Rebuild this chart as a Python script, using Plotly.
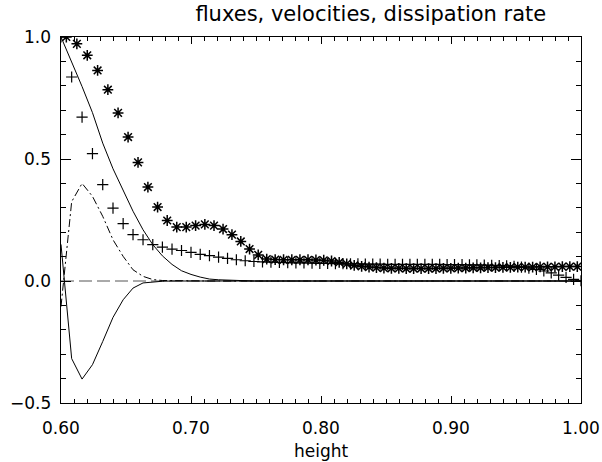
import plotly.graph_objects as go

# Height grid (cell faces) of the model column
height = [
    0.6000, 0.6082, 0.6162, 0.6242, 0.6321, 0.6400, 0.6478, 0.6554,
    0.6631, 0.6706, 0.6780, 0.6854, 0.6927, 0.7000, 0.7071, 0.7142,
    0.7212, 0.7281, 0.7349, 0.7417, 0.7484, 0.7550, 0.7615, 0.7680,
    0.7744, 0.7807, 0.7869, 0.7931, 0.7991, 0.8051, 0.8111, 0.8169,
    0.8227, 0.8284, 0.8341, 0.8398, 0.8455, 0.8513, 0.8570, 0.8627,
    0.8684, 0.8741, 0.8799, 0.8856, 0.8913, 0.8970, 0.9027, 0.9085,
    0.9142, 0.9199, 0.9256, 0.9313, 0.9371, 0.9428, 0.9485, 0.9542,
    0.9599, 0.9657, 0.9714, 0.9771, 0.9828, 0.9885, 0.9943, 1.0000,
]

# Dissipation rate at cell centres (asterisks)
dissipation_rate = [
    1.000, 0.972, 0.925, 0.863, 0.784, 0.689, 0.590, 0.486,
    0.385, 0.303, 0.248, 0.221, 0.221, 0.227, 0.232, 0.227,
    0.213, 0.190, 0.162, 0.131, 0.107, 0.090, 0.088, 0.087,
    0.087, 0.087, 0.087, 0.086, 0.085, 0.082, 0.076, 0.070,
    0.064, 0.060, 0.057, 0.055, 0.053, 0.052, 0.052, 0.051,
    0.051, 0.051, 0.051, 0.051, 0.052, 0.052, 0.053, 0.053,
    0.054, 0.054, 0.055, 0.055, 0.056, 0.056, 0.057, 0.057,
    0.057, 0.058, 0.058, 0.058, 0.059, 0.059, 0.059,
]

# Velocity amplitude on the faces (plus signs)
velocity = [
    1.000, 0.836, 0.672, 0.522, 0.395, 0.299, 0.235, 0.190,
    0.169, 0.149, 0.139, 0.131, 0.125, 0.117, 0.109, 0.104,
    0.098, 0.093, 0.087, 0.083, 0.080, 0.078, 0.077, 0.076,
    0.075, 0.074, 0.074, 0.073, 0.072, 0.072, 0.071, 0.071,
    0.070, 0.070, 0.069, 0.069, 0.069, 0.068, 0.068, 0.068,
    0.068, 0.068, 0.068, 0.068, 0.068, 0.067, 0.067, 0.067,
    0.066, 0.066, 0.065, 0.064, 0.063, 0.062, 0.060, 0.057,
    0.053, 0.048, 0.041, 0.033, 0.024, 0.015, 0.007, 0.001,
]

# Upward (positive) flux, solid
flux_up = [
    1.000, 0.898, 0.797, 0.690, 0.565, 0.460, 0.369, 0.286,
    0.210, 0.149, 0.103, 0.068, 0.042, 0.027, 0.016, 0.008,
    0.005, 0.003, 0.002, 0.001, 0.000, 0.000, 0.000, 0.000,
    0.000, 0.000, 0.000, 0.000, 0.000, 0.000, 0.000, 0.000,
    0.000, 0.000, 0.000, 0.000, 0.000, 0.000, 0.000, 0.000,
    0.000, 0.000, 0.000, 0.000, 0.000, 0.000, 0.000, 0.000,
    0.000, 0.000, 0.000, 0.000, 0.000, 0.000, 0.000, 0.000,
    0.000, 0.000, 0.000, 0.000, 0.000, 0.000, 0.000, 0.000,
]

# Downward (negative) flux, solid
flux_down = [
    0.150, -0.318, -0.402, -0.343, -0.248, -0.149, -0.077, -0.029,
    -0.008, -0.003, -0.001, 0.000, 0.000, 0.000, 0.000, 0.000,
    0.000, 0.000, 0.000, 0.000, 0.000, 0.000, 0.000, 0.000,
    0.000, 0.000, 0.000, 0.000, 0.000, 0.000, 0.000, 0.000,
    0.000, 0.000, 0.000, 0.000, 0.000, 0.000, 0.000, 0.000,
    0.000, 0.000, 0.000, 0.000, 0.000, 0.000, 0.000, 0.000,
    0.000, 0.000, 0.000, 0.000, 0.000, 0.000, 0.000, 0.000,
    0.000, 0.000, 0.000, 0.000, 0.000, 0.000, 0.000, 0.000,
]

# Kinetic energy flux, dash-dot
flux_kin = [
    -0.105, 0.325, 0.400, 0.347, 0.265, 0.169, 0.101, 0.046,
    0.019, 0.006, 0.002, 0.001, 0.000, 0.000, 0.000, 0.000,
    0.000, 0.000, 0.000, 0.000, 0.000, 0.000, 0.000, 0.000,
    0.000, 0.000, 0.000, 0.000, 0.000, 0.000, 0.000, 0.000,
    0.000, 0.000, 0.000, 0.000, 0.000, 0.000, 0.000, 0.000,
    0.000, 0.000, 0.000, 0.000, 0.000, 0.000, 0.000, 0.000,
    0.000, 0.000, 0.000, 0.000, 0.000, 0.000, 0.000, 0.000,
    0.000, 0.000, 0.000, 0.000, 0.000, 0.000, 0.000, 0.000,
]

# Mean flow, dashed
mean_flow = [
    0.000, 0.000, 0.000, 0.000, 0.000, 0.000, 0.000, 0.000,
    0.000, 0.000, 0.000, 0.000, 0.000, 0.000, 0.000, 0.000,
    0.000, 0.000, 0.000, 0.000, 0.000, 0.000, 0.000, 0.000,
    0.000, 0.000, 0.000, 0.000, 0.000, 0.000, 0.000, 0.000,
    0.000, 0.000, 0.000, 0.000, 0.000, 0.000, 0.000, 0.000,
    0.000, 0.000, 0.000, 0.000, 0.000, 0.000, 0.000, 0.000,
    0.000, 0.000, 0.000, 0.000, 0.000, 0.000, 0.000, 0.000,
    0.000, 0.000, 0.000, 0.000, 0.000, 0.000, 0.000, 0.000,
]

# Axis tick values and their labels
x_tick_values = [0.6, 0.7, 0.8, 0.9, 1.0]
x_tick_labels = ["0.60", "0.70", "0.80", "0.90", "1.00"]
y_tick_values = [-0.5, 0.0, 0.5, 1.0]
y_tick_labels = ["\u22120.5", "0.0", "0.5", "1.0"]

# cell centres between consecutive faces
centres = [(a + b) / 2 for a, b in zip(height[:-1], height[1:])]

fig = go.Figure()
fig.add_trace(go.Scatter(x=height, y=mean_flow, mode="lines",
                         line=dict(color="#555555", width=1, dash="13px,5px")))
fig.add_trace(go.Scatter(x=height, y=flux_kin, mode="lines",
                         line=dict(color="black", width=1, dash="8px,3px,2px,3px")))
fig.add_trace(go.Scatter(x=height, y=flux_up, mode="lines",
                         line=dict(color="black", width=1)))
fig.add_trace(go.Scatter(x=height, y=flux_down, mode="lines",
                         line=dict(color="black", width=1)))
fig.add_trace(go.Scatter(x=height, y=velocity, mode="markers",
                         marker=dict(symbol="cross-thin-open", size=8,
                                     color="black",
                                     line=dict(color="black", width=1.2))))
fig.add_trace(go.Scatter(x=centres, y=dissipation_rate, mode="markers",
                         marker=dict(symbol="asterisk-open", size=9,
                                     color="black",
                                     line=dict(color="black", width=1.5))))

# tick labels placed a little further from the box, as annotations
label_font = dict(family="DejaVu Sans", size=17, color="black")
annotations = []
for v, t in zip(x_tick_values, x_tick_labels):
    annotations.append(dict(text=t, xref="x", yref="paper", x=v, y=-0.068,
                            xanchor="center", yanchor="middle",
                            showarrow=False, font=label_font))
for v, t in zip(y_tick_values, y_tick_labels):
    annotations.append(dict(text=t, xref="paper", yref="y", x=-0.015, y=v,
                            xanchor="right", yanchor="middle",
                            showarrow=False, font=label_font))
annotations.append(dict(text="height", xref="paper", yref="paper",
                        x=0.5, y=-0.131, xanchor="center", yanchor="middle",
                        showarrow=False, font=label_font))

fig.update_layout(
    width=602, height=462,
    margin=dict(l=61, r=21, t=37, b=59),
    paper_bgcolor="white", plot_bgcolor="white",
    showlegend=False,
    font=dict(family="DejaVu Sans", size=17, color="black"),
    title=dict(text="fluxes, velocities, dissipation rate",
               xref="container", yref="container",
               x=0.616, xanchor="center", y=1 - 14 / 462, yanchor="middle",
               font=dict(size=21)),
    annotations=annotations,
)

fig.update_xaxes(range=[0.6, 1.0], tickmode="linear", tick0=0.6, dtick=0.1,
                 showticklabels=False,
                 ticks="inside", ticklen=7, tickwidth=1, tickcolor="black",
                 showline=True, linecolor="black", linewidth=1, mirror="allticks",
                 showgrid=False, zeroline=False,
                 minor=dict(ticks="inside", ticklen=4, dtick=0.01,
                            tickwidth=1, tickcolor="black", showgrid=False))
fig.update_yaxes(range=[-0.5, 1.0], tickmode="linear", tick0=0.0, dtick=0.5,
                 showticklabels=False,
                 ticks="inside", ticklen=10, tickwidth=1, tickcolor="black",
                 showline=True, linecolor="black", linewidth=1, mirror="allticks",
                 showgrid=False, zeroline=False,
                 minor=dict(ticks="inside", ticklen=5, dtick=0.1,
                            tickwidth=1, tickcolor="black", showgrid=False))

fig.write_html("out.html")
